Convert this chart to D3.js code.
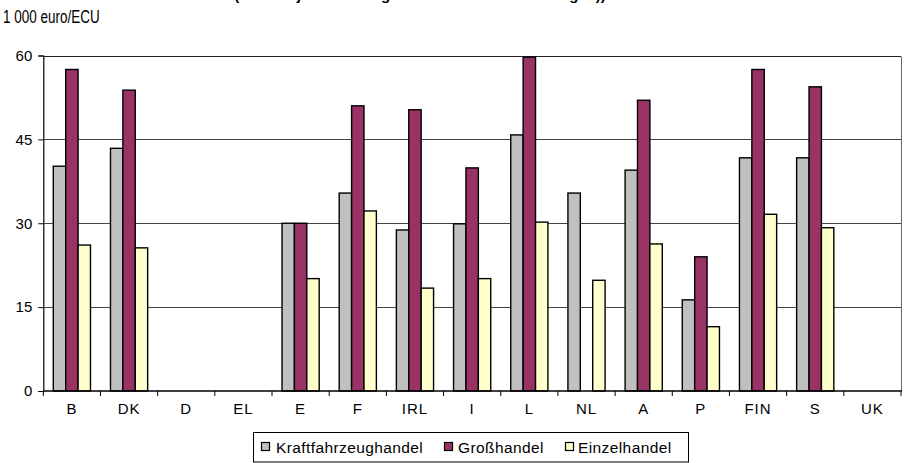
<!DOCTYPE html>
<html>
<head>
<meta charset="utf-8">
<script src="https://cdn.jsdelivr.net/npm/d3@7"></script>
<style>
  html, body { margin: 0; padding: 0; background: #fff; }
  svg { display: block; font-family: Arial, "Liberation Sans", sans-serif; }
</style>
</head>
<body>
<svg id="chart" width="906" height="463"></svg>
<script>
// Countries along the x axis
const countries = ["B", "DK", "D", "EL", "E", "F", "IRL", "I", "L", "NL", "A", "P", "FIN", "S", "UK"];

// Series names (legend order)
const seriesNames = ["Kraftfahrzeughandel", "Großhandel", "Einzelhandel"];

// Values in 1 000 euro/ECU; null = no data
const kraftfahrzeughandel = [40.2, 43.4, null, null, 30.0, 35.4, 28.8, 29.9, 45.8, 35.4, 39.5, 16.3, 41.7, 41.7, null];
const grosshandel         = [57.5, 53.8, null, null, 30.0, 51.0, 50.3, 39.9, 59.7, null, 52.0, 24.0, 57.5, 54.4, null];
const einzelhandel        = [26.1, 25.6, null, null, 20.1, 32.2, 18.4, 20.1, 30.2, 19.8, 26.3, 11.5, 31.6, 29.2, null];

const yTicks = [0, 15, 30, 45, 60];
const unitLabel = "1 000 euro/ECU";
const titleText = "(Umsatz je Beschäftigten nach Wirtschaftszweigen))";

const seriesValues = [kraftfahrzeughandel, grosshandel, einzelhandel];
const colors = ["#c0c0c0", "#993366", "#ffffcc"];

const svg = d3.select("#chart");
const plot = { left: 43.3, right: 901, top: 55.5, bottom: 391 };

const x = d3.scaleBand().domain(countries).range([plot.left, plot.right]).padding(0);
const xInner = d3.scaleBand().domain(seriesNames)
  .range([10, x.bandwidth() - 10]).padding(0);
const y = d3.scaleLinear().domain([0, 60]).range([plot.bottom, plot.top]);

// Title: sits above the top edge, only its descenders show
svg.append("text")
  .attr("x", 420).attr("y", 0)
  .attr("text-anchor", "middle")
  .attr("font-size", 15).attr("font-weight", "bold")
  .text(titleText);

// Unit label, horizontally condensed
svg.append("text")
  .attr("transform", "translate(3,22.5) scale(0.71,1)")
  .attr("font-size", 19)
  .text(unitLabel);

// Horizontal gridlines
svg.append("g").selectAll("line").data(yTicks.filter(t => t > 0)).join("line")
  .attr("x1", plot.left).attr("x2", plot.right)
  .attr("y1", d => Math.round(y(d)) + 0.5).attr("y2", d => Math.round(y(d)) + 0.5)
  .attr("stroke", d => d === 60 ? "#222" : "#444").attr("stroke-width", 1);

// Right border of the plot area
svg.append("line")
  .attr("x1", plot.right + 0.5).attr("x2", plot.right + 0.5)
  .attr("y1", Math.round(plot.top) + 0.5).attr("y2", plot.bottom)
  .attr("stroke", "#666");

// Bars
const groups = svg.append("g").selectAll("g")
  .data(countries).join("g")
  .attr("transform", d => `translate(${x(d)},0)`);

groups.selectAll("rect")
  .data((c, i) => seriesNames.map((s, k) => ({ s, k, v: seriesValues[k][i] })).filter(d => d.v != null))
  .join("rect")
  .attr("x", d => xInner(d.s))
  .attr("width", xInner.bandwidth())
  .attr("y", d => y(d.v))
  .attr("height", d => y(0) - y(d.v))
  .attr("fill", d => colors[d.k])
  .attr("stroke", "#000")
  .attr("stroke-width", 1.4);

// Y axis
const yAxis = d3.axisLeft(y).tickValues(yTicks).tickSize(5).tickPadding(6);
const gy = svg.append("g").attr("transform", `translate(${plot.left},0)`).call(yAxis);
gy.select(".domain").attr("stroke", "#000").attr("stroke-width", 1.2);
gy.selectAll(".tick line").attr("stroke", "#000");
gy.selectAll(".tick text").attr("font-size", 15).attr("font-family", "Arial, 'Liberation Sans', sans-serif").attr("fill", "#000");

// X axis: ticks at category boundaries
const gx = svg.append("g").attr("transform", `translate(0,${plot.bottom})`);
gx.append("line").attr("x1", plot.left).attr("x2", plot.right + 1)
  .attr("y1", 0).attr("y2", 0).attr("stroke", "#000").attr("stroke-width", 1.4);
const boundaries = countries.map(c => x(c)).concat([plot.right]);
gx.selectAll(".bt").data(boundaries).join("line")
  .attr("class", "bt")
  .attr("x1", d => d).attr("x2", d => d)
  .attr("y1", 0).attr("y2", 5).attr("stroke", "#000");
gx.selectAll(".cl").data(countries).join("text")
  .attr("class", "cl")
  .attr("x", d => x(d) + x.bandwidth() / 2)
  .attr("y", 23)
  .attr("text-anchor", "middle")
  .attr("font-size", 15)
  .attr("letter-spacing", 1)
  .text(d => d);

// Legend
const legend = svg.append("g");
legend.append("rect")
  .attr("x", 253.5).attr("y", 432.5).attr("width", 435).attr("height", 29.5)
  .attr("fill", "#fff").attr("stroke", "#000");
const legendItems = [
  { name: seriesNames[0], sx: 261, tx: 276 },
  { name: seriesNames[1], sx: 444, tx: 458 },
  { name: seriesNames[2], sx: 565, tx: 578 }
];
legendItems.forEach((it, k) => {
  legend.append("rect")
    .attr("x", it.sx + 0.5).attr("y", 442.5).attr("width", 8).attr("height", 8)
    .attr("fill", colors[k]).attr("stroke", "#000").attr("stroke-width", 1.2);
  legend.append("text")
    .attr("x", it.tx).attr("y", 452.5)
    .attr("font-size", 15.5)
    .attr("letter-spacing", 0.4)
    .text(it.name);
});
</script>
</body>
</html>
